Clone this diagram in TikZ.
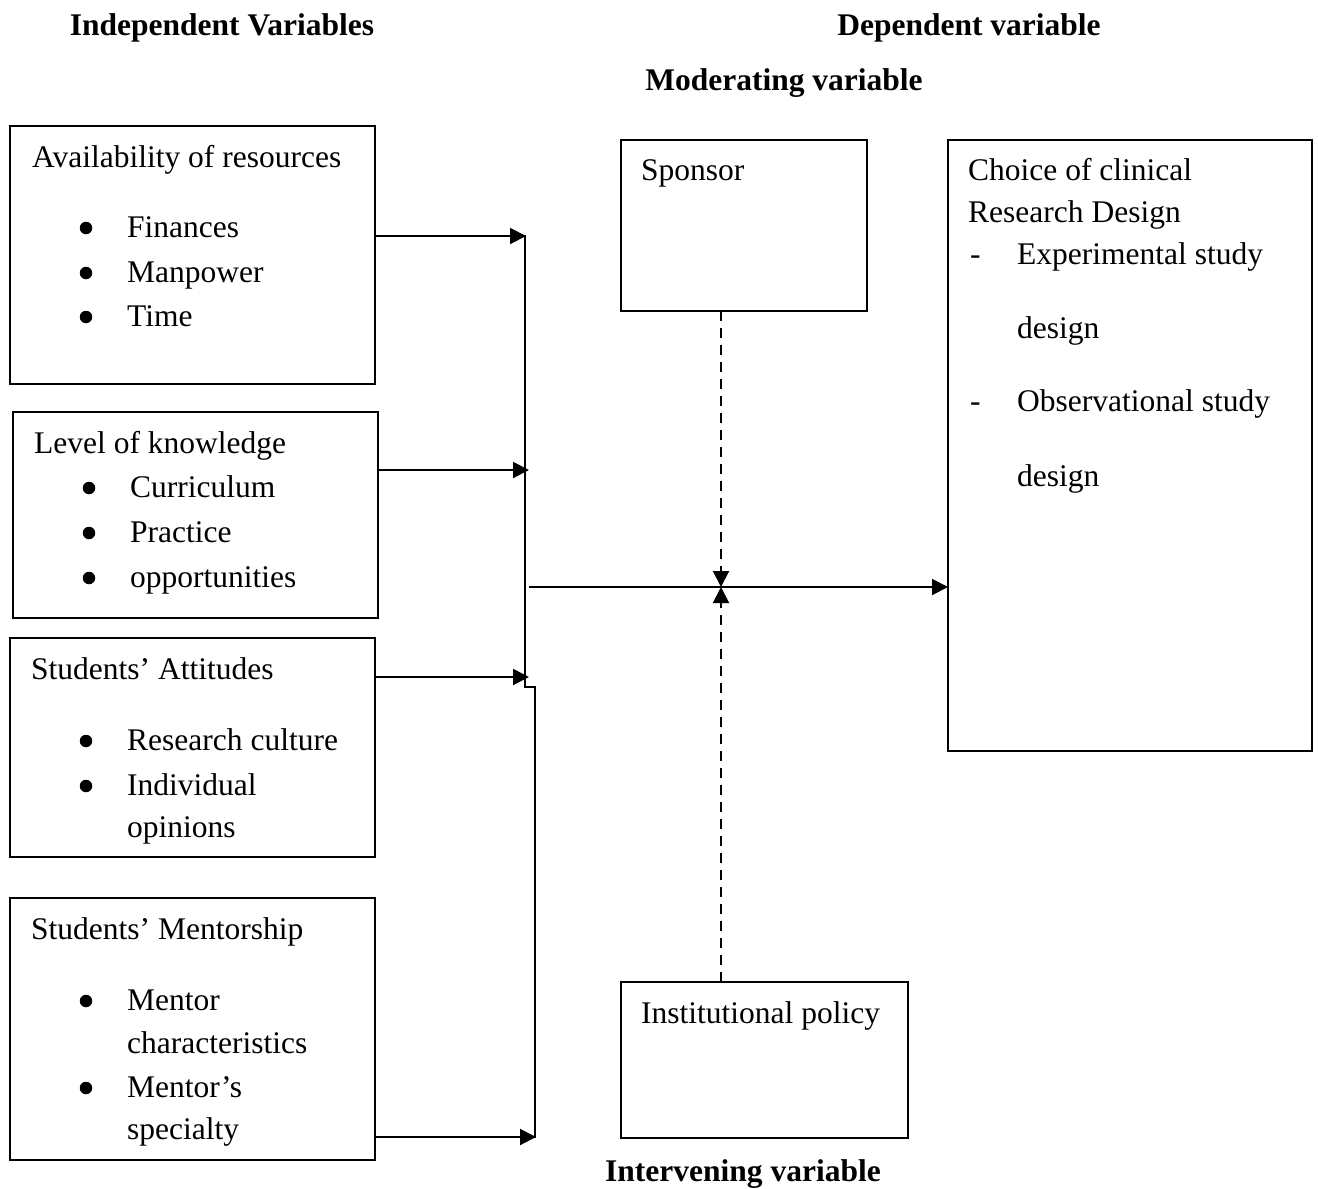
\documentclass[tikz,border=0pt]{standalone}
\usepackage{fontspec}
\setmainfont{Liberation Serif}
\usetikzlibrary{arrows.meta}
\begin{document}
\begin{tikzpicture}[x=1pt,y=-1pt,
  box/.style={draw,line width=1.3pt},
  txt/.style={anchor=mid west,inner sep=0pt,yshift=-8pt,font=\fontsize{31.5}{38}\selectfont},
  hdr/.style={anchor=mid,inner sep=0pt,yshift=-8pt,font=\fontsize{31.5}{38}\selectfont\bfseries},
  bul/.style={circle,fill,inner sep=0pt,minimum size=12.5pt},
  arr/.style={line width=2pt,-{Triangle[length=16pt,width=16pt]}},
  darr/.style={line width=2pt,dash pattern=on 10pt off 7pt,-{Triangle[length=16pt,width=16pt]}}]
\useasboundingbox (0,0) rectangle (1318,1189);
\fill[white] (0,0) rectangle (1318,1189);
% headers
\node[hdr] (h1) at (222,25) {Independent Variables};
\node[hdr] (h2) at (969,25) {Dependent variable};
\node[hdr] (h3) at (784,80) {Moderating variable};
\node[hdr] (h4) at (743,1171) {Intervening variable};
% boxes
\draw[box] (10,126) rectangle (375,384);
\coordinate (b1) at (375,236);
\node[txt] (t1) at (32,157) {Availability of resources};
\node[bul] (p11) at (86,228) {}; \node[txt] (t11) at (127,227) {Finances};
\node[bul] (p12) at (86,273) {}; \node[txt] (t12) at (127,272) {Manpower};
\node[bul] (p13) at (86,317) {}; \node[txt] (t13) at (127,316) {Time};

\draw[box] (13,412) rectangle (378,618);
\coordinate (b2) at (378,470);
\node[txt] (t2) at (34,443) {Level of knowledge};
\node[bul] (p21) at (89,488) {}; \node[txt] (t21) at (130,487) {Curriculum};
\node[bul] (p22) at (89,533) {}; \node[txt] (t22) at (130,532) {Practice};
\node[bul] (p23) at (89,578) {}; \node[txt] (t23) at (130,577) {opportunities};

\draw[box] (10,638) rectangle (375,857);
\coordinate (b3) at (375,677);
\node[txt] (t3) at (31,669) {Students' Attitudes};
\node[bul] (p31) at (86,741) {}; \node[txt] (t31) at (127,740) {Research culture};
\node[bul] (p32) at (86,786) {}; \node[txt] (t32) at (127,785) {Individual};
\node[txt] (t33) at (127,827) {opinions};

\draw[box] (10,898) rectangle (375,1160);
\coordinate (b4) at (375,1137);
\node[txt] (t4) at (31,929) {Students' Mentorship};
\node[bul] (p41) at (86,1001) {}; \node[txt] (t41) at (127,1000) {Mentor};
\node[txt] (t42) at (127,1043) {characteristics};
\node[bul] (p43) at (86,1088) {}; \node[txt] (t43) at (127,1087) {Mentor's};
\node[txt] (t44) at (127,1129) {specialty};

\draw[box] (621,140) rectangle (867,311);
\coordinate (sp) at (721,311);
\node[txt] (t5) at (641,170) {Sponsor};

\draw[box] (621,982) rectangle (908,1138);
\coordinate (ip) at (721,982);
\node[txt] (t6) at (641,1013) {Institutional policy};

\draw[box] (948,140) rectangle (1312,751);
\coordinate (ch) at (948,587);
\node[txt] (t7) at (968,170) {Choice of clinical};
\node[txt] (t71) at (968,212) {Research Design};
\node[txt] (d1) at (970,254) {-}; \node[txt] (t72) at (1017,254) {Experimental study};
\node[txt] (t73) at (1017,328) {design};
\node[txt] (d2) at (970,401) {-}; \node[txt] (t74) at (1017,401) {Observational study};
\node[txt] (t75) at (1017,476) {design};

% connectors
\coordinate (j1) at (526,236);
\coordinate (j2) at (529,470);
\coordinate (j3) at (529,677);
\coordinate (j4) at (536,1137);
\coordinate (k1) at (525,687);
\coordinate (k2) at (535,687);
\coordinate (m0) at (529,587);
\coordinate (x) at (721,587);
\draw[arr] (b1) -- (j1);
\draw[arr] (b2) -- (j2);
\draw[arr] (b3) -- (j3);
\draw[arr] (b4) -- (j4);
\draw[line width=1.5pt] (525,235) -- (k1) -- (k2) -- (535,1138);
\draw[arr] (m0) -- (ch);
\draw[darr] (sp) -- (x);
\draw[darr] (ip) -- (x);
\end{tikzpicture}
\end{document}
